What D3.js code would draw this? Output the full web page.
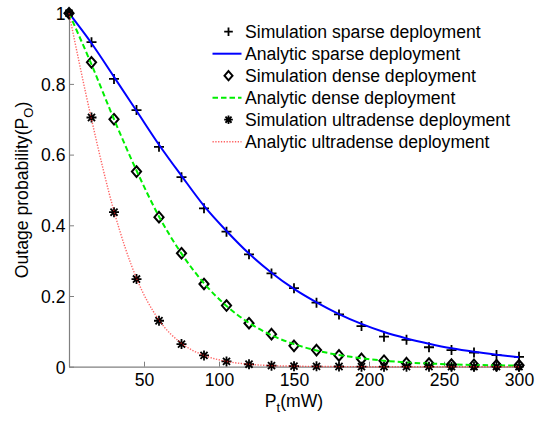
<!DOCTYPE html>
<html>
<head>
<meta charset="utf-8">
<script src="https://cdn.jsdelivr.net/npm/d3@7/dist/d3.min.js"></script>
<style>
  html, body { margin: 0; padding: 0; background: #fff; }
  svg { display: block; font-family: "Liberation Sans", Arial, sans-serif; }
</style>
</head>
<body>
<svg id="chart" width="536" height="421"></svg>
<script>
// Transmit power samples (mW)
const power = [0, 15, 30, 45, 60, 75, 90, 105, 120, 135, 150, 165, 180, 195, 210, 225, 240, 255, 270, 285, 300];

// Outage probability per deployment
const simSparse = [1, 0.918, 0.814, 0.726, 0.622, 0.536, 0.448, 0.382, 0.318, 0.264, 0.222, 0.181, 0.148, 0.115, 0.085, 0.076, 0.055, 0.047, 0.040, 0.033, 0.028];
const anaSparse = [1, 0.915, 0.820, 0.724, 0.628, 0.540, 0.455, 0.384, 0.320, 0.266, 0.220, 0.182, 0.149, 0.121, 0.098, 0.080, 0.065, 0.052, 0.042, 0.034, 0.027];
const simDense = [1, 0.861, 0.700, 0.552, 0.423, 0.321, 0.234, 0.173, 0.123, 0.092, 0.059, 0.047, 0.032, 0.022, 0.017, 0.010, 0.009, 0.006, 0.005, 0.004, 0.004];
const anaDense = [1, 0.855, 0.700, 0.555, 0.425, 0.320, 0.236, 0.172, 0.124, 0.089, 0.064, 0.046, 0.033, 0.024, 0.017, 0.012, 0.009, 0.0065, 0.005, 0.004, 0.003];
const simUltra = [1, 0.705, 0.437, 0.248, 0.130, 0.064, 0.032, 0.015, 0.007, 0.003, 0.0015, 0.001, 0.0005, 0, 0, 0, 0, 0, 0, 0, 0];
const anaUltra = [1, 0.700, 0.440, 0.250, 0.132, 0.066, 0.032, 0.015, 0.007, 0.003, 0.0015, 0.0007, 0.0003, 0.0001, 0, 0, 0, 0, 0, 0, 0];

const xTicks = [50, 100, 150, 200, 250, 300];
const yTicks = [0, 0.2, 0.4, 0.6, 0.8, 1];
const legendLabels = [
  "Simulation sparse deployment",
  "Analytic sparse deployment",
  "Simulation dense deployment",
  "Analytic dense deployment",
  "Simulation ultradense deployment",
  "Analytic ultradense deployment"
];

const svg = d3.select("#chart");
const plotLeft = 69, plotRight = 519, plotTop = 13.2, plotBottom = 366.7;
const x = d3.scaleLinear().domain([0, 300]).range([plotLeft, plotRight]);
const y = d3.scaleLinear().domain([0, 1]).range([plotBottom, plotTop]);
const axisColor = "#808080";
const fontSize = 17.6;

// Axes: inward ticks, grey lines, left and bottom only
const xAxis = svg.append("g").attr("transform", `translate(0,${plotBottom})`)
  .call(d3.axisBottom(x).tickValues(xTicks).tickSizeInner(-5).tickSizeOuter(0).tickPadding(6.5).tickFormat(d3.format("d")));
const yAxis = svg.append("g").attr("transform", `translate(${plotLeft},0)`)
  .call(d3.axisLeft(y).tickValues(yTicks).tickSizeInner(-5).tickSizeOuter(0).tickPadding(5)
    .tickFormat(d => d === 0 || d === 1 ? d3.format("d")(d) : d3.format(".1f")(d)));
[xAxis, yAxis].forEach(g => {
  g.select(".domain").attr("stroke", axisColor).attr("stroke-width", 1.2);
  g.selectAll(".tick line").attr("stroke", axisColor).attr("stroke-width", 1);
  g.selectAll(".tick text").attr("fill", "#000").attr("font-size", fontSize)
    .attr("font-family", "Liberation Sans, Arial, sans-serif");
});
yAxis.selectAll(".tick text").attr("dy", "0.36em").attr("x", -3.5);

// Axis titles
const xt = svg.append("text").attr("x", (plotLeft + plotRight) / 2).attr("y", 407)
  .attr("text-anchor", "middle").attr("font-size", fontSize).attr("fill", "#000");
xt.append("tspan").text("P");
xt.append("tspan").attr("dy", 5).attr("font-size", 13).text("t");
xt.append("tspan").attr("dy", -5).text("(mW)");

const yt = svg.append("text").attr("transform", `translate(28,${(plotTop + plotBottom) / 2}) rotate(-90)`)
  .attr("text-anchor", "middle").attr("font-size", fontSize).attr("fill", "#000");
yt.append("tspan").text("Outage probability(P");
yt.append("tspan").attr("dy", 5).attr("font-size", 13).text("O");
yt.append("tspan").attr("dy", -5).text(")");

// Marker shapes
const plusPath = r => `M${-r},0H${r}M0,${-r}V${r}`;
const diamondPath = r => `M0,${-r * 1.15}L${r},0L0,${r * 1.15}L${-r},0Z`;
const starPath = r => {
  const d = r * Math.SQRT1_2;
  return `M${-r},0H${r}M0,${-r}V${r}M${-d},${-d}L${d},${d}M${-d},${d}L${d},${-d}`;
};

const line = d3.line().x((d, i) => x(power[i])).y(d => y(d)).curve(d3.curveMonotoneX);

function markers(values, pathFn, r, w) {
  svg.append("g").selectAll("path").data(values).join("path")
    .attr("transform", (d, i) => `translate(${x(power[i])},${y(d)})`)
    .attr("d", pathFn(r)).attr("fill", "none").attr("stroke", "#000").attr("stroke-width", w);
}
const styles = {
  blue: { stroke: "#0000ff", width: 2, dash: null, opacity: 1 },
  green: { stroke: "#00ee00", width: 2, dash: "5.5,3", opacity: 1 },
  red: { stroke: "#ff2020", width: 1.4, dash: "1.3,1.5", opacity: 0.7 }
};
function curve(values, st) {
  svg.append("path").datum(values).attr("d", line).attr("fill", "none")
    .attr("stroke", st.stroke).attr("stroke-width", st.width)
    .attr("stroke-dasharray", st.dash).attr("stroke-opacity", st.opacity);
}

markers(simSparse, plusPath, 5, 1.8);
curve(anaSparse, styles.blue);
markers(simDense, diamondPath, 4.6, 2);
curve(anaDense, styles.green);
markers(simUltra, starPath, 5, 1.8);
curve(anaUltra, styles.red);

// Legend
const legend = svg.append("g");
const rowY = i => 31.7 + i * 22;
const legendKinds = [
  { marker: plusPath(4.3), w: 1.8 }, { line: styles.blue },
  { marker: diamondPath(4), w: 2 }, { line: styles.green },
  { marker: starPath(4.3), w: 1.8 }, { line: styles.red }
];
legendKinds.forEach((k, i) => {
  if (k.marker) {
    legend.append("path").attr("transform", `translate(228.5,${rowY(i)})`)
      .attr("d", k.marker).attr("fill", "none").attr("stroke", "#000").attr("stroke-width", k.w);
  } else {
    legend.append("line").attr("x1", 212.5).attr("x2", 241.5).attr("y1", rowY(i)).attr("y2", rowY(i))
      .attr("stroke", k.line.stroke).attr("stroke-width", k.line.width)
      .attr("stroke-dasharray", k.line.dash).attr("stroke-opacity", k.line.opacity);
  }
  legend.append("text").attr("x", 245).attr("y", rowY(i)).attr("dy", "0.36em")
    .attr("font-size", fontSize).attr("fill", "#000").text(legendLabels[i]);
});
</script>
</body>
</html>
